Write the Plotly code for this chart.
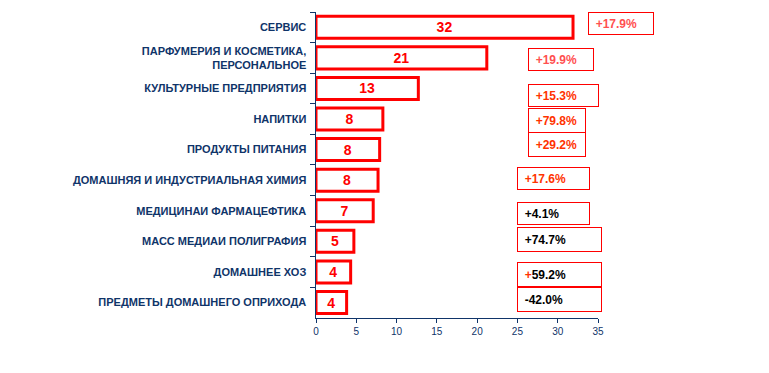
import plotly.graph_objects as go

categories = [
    "СЕРВИС",
    "ПАРФУМЕРИЯ И КОСМЕТИКА,<br>ПЕРСОНАЛЬНОЕ",
    "КУЛЬТУРНЫЕ ПРЕДПРИЯТИЯ",
    "НАПИТКИ",
    "ПРОДУКТЫ ПИТАНИЯ",
    "ДОМАШНЯЯ И ИНДУСТРИАЛЬНАЯ ХИМИЯ",
    "МЕДИЦИНАИ ФАРМАЦЕФТИКА",
    "МАСС МЕДИАИ ПОЛИГРАФИЯ",
    "ДОМАШНЕЕ ХОЗ",
    "ПРЕДМЕТЫ ДОМАШНЕГО ОПРИХОДА",
]
values = [31.9, 21.2, 12.7, 8.3, 7.9, 7.7, 7.1, 4.7, 4.3, 3.8]
value_labels = ["32", "21", "13", "8", "8", "8", "7", "5", "4", "4"]
growth_labels = ["+17.9%", "+19.9%", "+15.3%", "+79.8%", "+29.2%",
                 "+17.6%", "+4.1%", "+74.7%", "+59.2%", "-42.0%"]
x_ticks = [0, 5, 10, 15, 20, 25, 30, 35]

NAVY = "#0f3469"
RED = "#ff0000"
FONT = "Liberation Sans, Arial, sans-serif"

# box styling (decoration): text colour, left edge (x units), width px, height px, vertical shift px
box_styles = [
    ("#ff5050", 33.75, 64, 21, 4),
    ("#ff5050", 26.3, 64, 21, -2),
    ("#ff3300", 26.3, 69, 21, -7),
    ("#ff3300", 26.3, 56, 23, -1),
    ("#ff3300", 26.3, 56, 23, 5),
    ("#ff3300", 24.95, 71, 21, 2),
    ("#000000", 24.95, 71, 21, -3),
    ("#000000", 24.95, 83, 23, 2),
    ("#000000", 24.95, 83, 23, -3),
    ("#000000", 24.95, 83, 23, 3),
]

fig = go.Figure()
fig.add_trace(go.Bar(
    x=values,
    y=categories,
    orientation="h",
    marker=dict(color="white", line=dict(color=RED, width=3)),
    text=value_labels,
    textposition="inside",
    insidetextanchor="middle",
    textfont=dict(color=RED, size=14, family=FONT),
    texttemplate="<b>%{text}</b>",
    hoverinfo="skip",
))

annotations = []
for cat, lab, (col, x0, w, h, dy) in zip(categories, growth_labels, box_styles):
    if lab == "+59.2%":
        txt = "&nbsp;&nbsp;<b><span style='color:#ff3300'>+</span>59.2%</b>"
    else:
        txt = "&nbsp;&nbsp;<b>" + lab + "</b>"
    annotations.append(dict(
        x=x0, y=cat, xref="x", yref="y",
        xanchor="left", yanchor="middle",
        text=txt, showarrow=False, align="left",
        width=w, height=h,
        bordercolor=RED, borderwidth=1, borderpad=0,
        bgcolor="white",
        yshift=dy,
        font=dict(color=col, size=12, family=FONT),
    ))

fig.update_layout(
    width=769, height=373,
    margin=dict(l=316, r=171, t=12, b=55),
    paper_bgcolor="white",
    plot_bgcolor="white",
    showlegend=False,
    bargap=0.28,
    font=dict(family=FONT, color=NAVY),
    annotations=annotations,
    xaxis=dict(
        range=[0, 35],
        tickvals=x_ticks,
        ticktext=[str(t) for t in x_ticks],
        showgrid=False, zeroline=False,
        showline=True, linecolor=NAVY, linewidth=1,
        ticks="outside", ticklen=4, tickcolor=NAVY,
        tickfont=dict(size=10, color=NAVY, family=FONT),
        fixedrange=True,
    ),
    yaxis=dict(
        autorange="reversed",
        showgrid=False, zeroline=False,
        showline=True, linecolor=NAVY, linewidth=1.5,
        ticks="outside", ticklen=5, tickcolor=NAVY,
        tickson="boundaries",
        tickfont=dict(size=11, color=NAVY, family=FONT, weight="bold"),
        ticklabelstandoff=6,
        fixedrange=True,
    ),
)

fig.write_html(
    "out.html",
    config={"displayModeBar": False, "staticPlot": True},
    post_script="document.body.style.margin='0';document.body.style.overflow='hidden';",
)
